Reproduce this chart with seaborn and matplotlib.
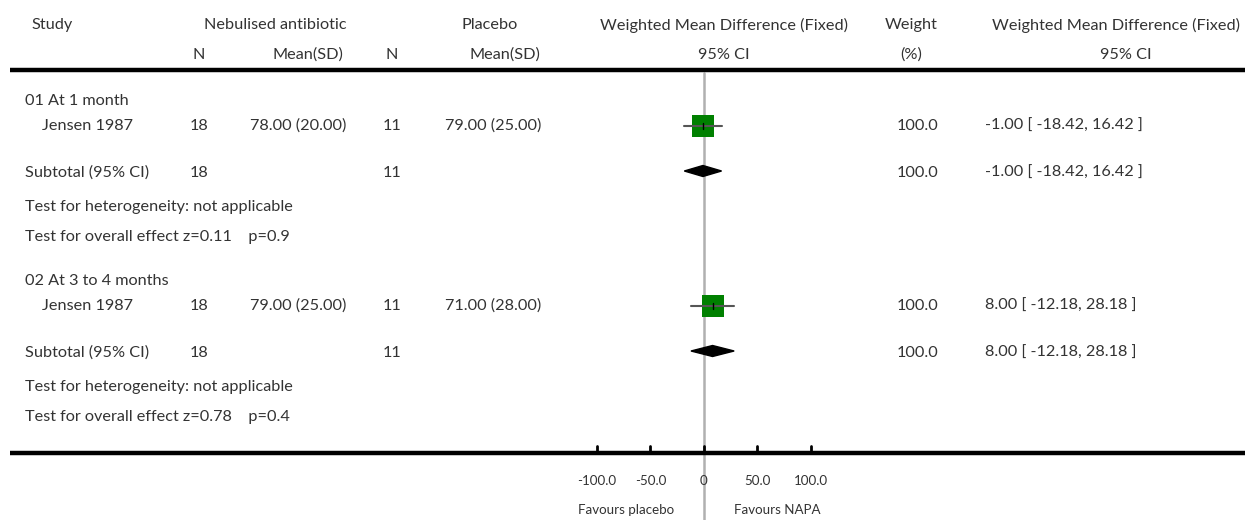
import matplotlib
matplotlib.use("Agg")
import matplotlib.pyplot as plt
import matplotlib.transforms as mtransforms
from matplotlib.patches import Polygon
import seaborn as sns
import pandas as pd

# ---------------- data ----------------
groups = ["01 At 1 month", "02 At 3 to 4 months"]
studies = ["Jensen 1987", "Jensen 1987"]
n_treat = [18, 18]
mean_sd_treat = ["78.00 (20.00)", "79.00 (25.00)"]
n_ctrl = [11, 11]
mean_sd_ctrl = ["79.00 (25.00)", "71.00 (28.00)"]
wmd = [-1.00, 8.00]
ci_low = [-18.42, -12.18]
ci_high = [16.42, 28.18]
weights = ["100.0", "100.0"]
sub_n_treat = [18, 18]
sub_n_ctrl = [11, 11]
heterogeneity = ["Test for heterogeneity: not applicable", "Test for heterogeneity: not applicable"]
overall = ["Test for overall effect z=0.11    p=0.9", "Test for overall effect z=0.78    p=0.4"]
tick_values = [-100, -50, 0, 50, 100]
tick_labels = ["-100.0", "-50.0", "0", "50.0", "100.0"]
favours = ["Favours placebo", "Favours NAPA"]

# ---------------- figure ----------------
sns.set_theme(style="white")
plt.rcParams["font.family"] = ["Lato", "DejaVu Sans"]
W, H = 1245, 520
fig = plt.figure(figsize=(W / 100, H / 100), dpi=100)
ax = fig.add_axes([0, 0, 1, 1])
x0_px, unit_px = 704.0, 1.07
XMIN, XMAX = -x0_px / unit_px, (W - x0_px) / unit_px

tr = mtransforms.blended_transform_factory(ax.transAxes, ax.transData)
fs = 11.7
col = "#333333"


def t(xpx, y, s, ha="left", size=fs):
    ax.text(xpx / W, y, s, transform=tr, ha=ha, va="center", fontsize=size,
            color=col, fontweight="normal")


# headers
t(52, 25, "Study", "center")
t(275, 25, "Nebulised antibiotic", "center")
t(490, 25, "Placebo", "center")
t(724, 25, "Weighted Mean Difference (Fixed)", "center")
t(911, 25, "Weight", "center")
t(1116, 25, "Weighted Mean Difference (Fixed)", "center")
t(199, 55, "N", "center")
t(308, 55, "Mean(SD)", "center")
t(392, 55, "N", "center")
t(505, 55, "Mean(SD)", "center")
t(724, 55, "95% CI", "center")
t(911, 55, "(%)", "center")
t(1126, 55, "95% CI", "center")

# thick rules
for yy in (70, 453):
    ax.plot([XMIN + 10 / unit_px, XMAX], [yy, yy], color="black", lw=3.2,
            solid_capstyle="butt")

# zero line
ax.plot([0, 0], [73, 520], color="#b0b0b0", lw=1.8, zorder=1)

offsets = [0, 180]
rows = []
for i in range(2):
    o = offsets[i]
    ci_txt = f"{wmd[i]:.2f} [ {ci_low[i]:.2f}, {ci_high[i]:.2f} ]"
    t(25, 101 + o, groups[i])
    t(42, 126 + o, studies[i])
    t(199, 126 + o, str(n_treat[i]), "center")
    t(250, 126 + o, mean_sd_treat[i])
    t(392, 126 + o, str(n_ctrl[i]), "center")
    t(445, 126 + o, mean_sd_ctrl[i])
    t(897, 126 + o, weights[i])
    t(985, 126 + o, ci_txt)
    t(25, 173 + o, "Subtotal (95% CI)")
    t(199, 173 + o, str(sub_n_treat[i]), "center")
    t(392, 173 + o, str(sub_n_ctrl[i]), "center")
    t(897, 173 + o, weights[i])
    t(985, 173 + o, ci_txt)
    t(25, 207 + o, heterogeneity[i])
    t(25, 237 + o, overall[i])
    rows.append({"wmd": wmd[i], "lo": ci_low[i], "hi": ci_high[i],
                 "y": 126 + o, "ys": 171 + o})

df = pd.DataFrame(rows)

# squares (weight 100%)
sns.scatterplot(data=df, x="wmd", y="y", marker="s", s=250, color="#008000",
                edgecolor="none", ax=ax, zorder=2, legend=False)
for _, r in df.iterrows():
    ax.plot([r["lo"], r["hi"]], [r["y"], r["y"]], color="#555555", lw=1.5, zorder=3)
    ax.plot([r["wmd"], r["wmd"]], [r["y"] - 3, r["y"] + 3], color="black", lw=1, zorder=5)
    ax.add_patch(Polygon([[r["lo"], r["ys"]], [r["wmd"], r["ys"] - 5.5],
                          [r["hi"], r["ys"]], [r["wmd"], r["ys"] + 5.5]],
                         closed=True, color="black", zorder=4))

ax.set_xlim(XMIN, XMAX)
ax.set_ylim(H, 0)
ax.axis("off")

# axis ticks
for v, lab in zip(tick_values, tick_labels):
    ax.plot([v, v], [446, 453], color="black", lw=2)
    ax.text(v, 481, lab, ha="center", va="center", fontsize=9.6, color=col)
ax.text(-73, 510, favours[0], ha="center", va="center", fontsize=9.6, color=col)
ax.text(68, 510, favours[1], ha="center", va="center", fontsize=9.6, color=col)

fig.savefig("out.png", dpi=100, facecolor="white")
